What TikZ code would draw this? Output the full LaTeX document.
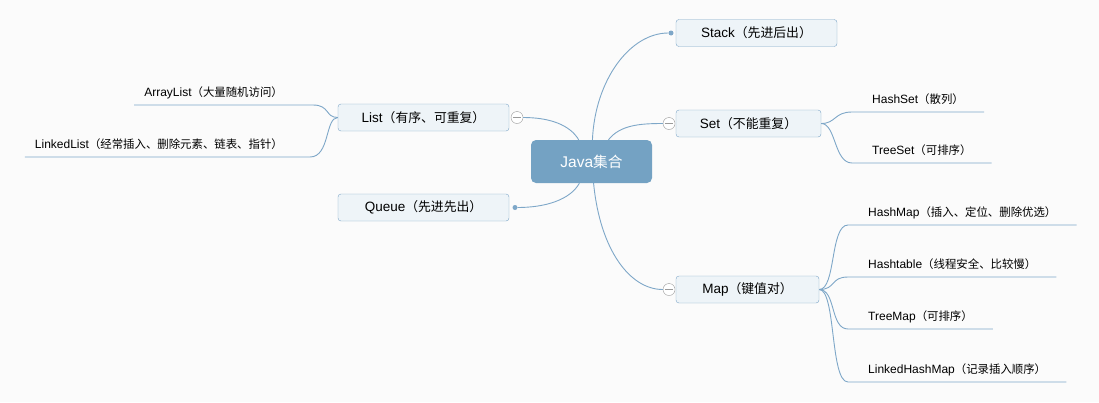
\documentclass[tikz,border=0pt]{standalone}
\usepackage{fontspec}
\setmainfont{Liberation Sans}
\newfontfamily\cjk{Noto Sans CJK SC}[Scale=0.95]
\newcommand{\zh}[1]{{\cjk #1}}

\definecolor{linecol}{HTML}{7EA7C8}
\definecolor{boxfill}{HTML}{EEF4F8}
\definecolor{rootfill}{HTML}{74A2C3}
\definecolor{foldcol}{HTML}{9A9A9A}
\definecolor{bgcol}{HTML}{FBFBFB}

\tikzstyle{root} = [rectangle,rounded corners=5pt,fill=rootfill,text=white,minimum width=121pt,minimum height=43pt,font=\fontsize{15.5}{18}\selectfont]
\tikzstyle{topic} = [rectangle,rounded corners=3pt,draw=linecol,fill=boxfill,minimum height=27pt,inner sep=0pt,font=\fontsize{13.5}{16}\selectfont]
\tikzstyle{leaf} = [inner xsep=20pt,inner ysep=0pt,text depth=8pt,anchor=south west,font=\fontsize{12}{14}\selectfont]
\tikzstyle{leftleaf} = [leaf,inner xsep=10pt,anchor=south east]
\tikzstyle{fold} = [circle,draw=foldcol,fill=white,minimum size=12pt,inner sep=0pt,path picture={\draw[foldcol] ([xshift=-4pt]path picture bounding box.center) -- ([xshift=4pt]path picture bounding box.center);}]
\tikzstyle{tip} = [circle,fill=linecol,minimum size=5pt,inner sep=0pt]
\tikzstyle{branch} = [draw=linecol,line width=0.9pt]

\begin{document}
\begin{tikzpicture}[x=1pt,y=-1pt]
	\fill[bgcol] (0,0) rectangle (1099,402);
	\useasboundingbox (0,0) rectangle (1099,402);

	\node[root] (java) at (591.5,161.5) {Java\zh{集合}};

	\node[topic,minimum width=161pt] (stack) at (756.5,33) {Stack\zh{（先进后出）}};
	\node[topic,minimum width=145pt] (set) at (748.5,123.5) {Set\zh{（不能重复）}};
	\node[topic,minimum width=171pt] (list) at (423.5,117.5) {List\zh{（有序、可重复）}};
	\node[topic,minimum width=171pt] (queue) at (423.5,207.5) {Queue\zh{（先进先出）}};
	\node[topic,minimum width=143pt] (map) at (747.5,289.5) {Map\zh{（键值对）}};

	\node[tip] (stacktip) at (671,33) {};
	\node[tip] (queuetip) at (515,207.5) {};
	\node[fold] (setfold) at (669,123.5) {};
	\node[fold] (listfold) at (517,117.5) {};
	\node[fold] (mapfold) at (669,289.5) {};

	\node[leftleaf] (arraylist) at (293,105) {ArrayList\zh{（大量随机访问）}};
	\node[leftleaf] (linkedlist) at (293,157) {LinkedList\zh{（经常插入、删除元素、链表、指针）}};
	\node[leaf] (hashset) at (852,112) {HashSet\zh{（散列）}};
	\node[leaf] (treeset) at (852,163) {TreeSet\zh{（可排序）}};
	\node[leaf] (hashmap) at (848,225) {HashMap\zh{（插入、定位、删除优选）}};
	\node[leaf] (hashtable) at (848,277) {Hashtable\zh{（线程安全、比较慢）}};
	\node[leaf] (treemap) at (848,329) {TreeMap\zh{（可排序）}};
	\node[leaf] (linkedhashmap) at (848,382) {LinkedHashMap\zh{（记录插入顺序）}};

	\draw[branch] (java) .. controls (595,80) and (630,33) .. (stacktip);
	\draw[branch] (java) .. controls (620,125) and (640,123.5) .. (setfold);
	\draw[branch] (java) .. controls (570,125) and (550,117.5) .. (listfold);
	\draw[branch] (java) .. controls (570,200) and (545,207.5) .. (queuetip);
	\draw[branch] (java) .. controls (600,250) and (630,289.5) .. (mapfold);

	\draw[branch] (list.west) .. controls (325,117.5) and (330,105) .. ([xshift=20pt]arraylist.south east) -- (arraylist.south west);
	\draw[branch] (list.west) .. controls (325,117.5) and (330,157) .. ([xshift=17pt]linkedlist.south east) -- (linkedlist.south west);
	\draw[branch] (set.east) .. controls (836,123.5) and (834,112) .. (hashset.south west) -- (hashset.south east);
	\draw[branch] (set.east) .. controls (836,123.5) and (834,163) .. (treeset.south west) -- (treeset.south east);
	\draw[branch] (map.east) .. controls (836,289.5) and (830,225) .. (hashmap.south west) -- (hashmap.south east);
	\draw[branch] (map.east) .. controls (836,289.5) and (830,277) .. (hashtable.south west) -- (hashtable.south east);
	\draw[branch] (map.east) .. controls (836,289.5) and (830,329) .. (treemap.south west) -- (treemap.south east);
	\draw[branch] (map.east) .. controls (836,289.5) and (830,382) .. (linkedhashmap.south west) -- (linkedhashmap.south east);
\end{tikzpicture}
\end{document}
